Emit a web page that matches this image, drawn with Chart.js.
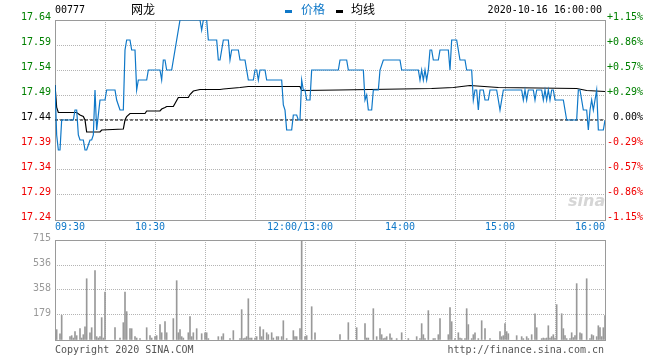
<!DOCTYPE html>
<html lang="zh-CN">
<head>
<meta charset="utf-8">
<title>00777 网龙</title>
<script src="https://cdn.jsdelivr.net/npm/chart.js@4.4.1/dist/chart.umd.min.js"></script>
<style>
html,body{margin:0;padding:0;background:#fff;}
#wrap{position:relative;width:660px;height:360px;overflow:hidden;background:#fff;}
#c1{position:absolute;left:0;top:0;}
#c2{position:absolute;left:0;top:228px;}
.tx{position:absolute;white-space:nowrap;font-family:"DejaVu Sans Mono","Liberation Mono",monospace;font-size:10px;line-height:12px;color:#000;}
.cn{font-family:"Noto Sans CJK SC",sans-serif;font-size:12px;line-height:12px;}
.mk{position:absolute;width:7px;height:3px;}
</style>
</head>
<body>
<div id="wrap">
<canvas id="c1" width="660" height="240"></canvas>
<canvas id="c2" width="660" height="132"></canvas>
<div class="tx" style="left:55px;top:4px">00777</div>
<div class="tx cn" style="left:131px;top:3px">网龙</div>
<div id="legend"></div>
<div class="tx" style="right:58px;top:4px">2020-10-16 16:00:00</div>
<div style="position:absolute;left:568px;top:191px;font:italic bold 16px 'DejaVu Sans',sans-serif;color:#d6d6d6;">sina</div>
<div class="tx" style="left:55px;top:344px;color:#555">Copyright 2020 SINA.COM</div>
<div class="tx" style="right:56px;top:344px;color:#555">http://finance.sina.com.cn</div>
</div>
<script>
// ---- data ----
const prevClose = 17.44;
const seriesNames = ['价格', '均线'];
const timeLabels = ['09:30', '10:30', '12:00/13:00', '14:00', '15:00', '16:00'];
const timeLabelMinutes = [0, 60, 150, 210, 270, 330];
const priceTicks = [17.24, 17.29, 17.34, 17.39, 17.44, 17.49, 17.54, 17.59, 17.64];
const volumeTicks = [0, 179, 358, 536, 715];

// minutes since 09:30 (lunch break removed) and price
const priceMinutes = [0,1,2,3,4,11,12,13,14,15,17,18,19,20,21,22,23,24,25,26,27,30,31,36,37,38,39,41,42,43,45,46,48,49,50,55,56,63,64,65,66,67,70,71,72,73,74,75,87,88,89,91,92,97,98,99,101,104,105,106,110,111,114,115,116,119,120,121,122,123,126,127,136,137,138,139,142,143,145,146,147,148,149,150,151,153,154,170,171,175,176,185,186,187,188,190,191,194,195,197,207,208,218,219,220,221,222,223,224,225,226,227,230,231,236,237,238,241,242,243,246,247,250,251,252,253,254,255,257,258,260,261,265,266,267,268,269,280,281,282,283,284,287,288,289,292,293,294,295,296,297,298,299,300,305,306,307,313,314,315,316,317,319,320,321,322,323,324,325,326,329,330];
const priceValues = [17.51,17.41,17.38,17.38,17.44,17.44,17.46,17.46,17.41,17.40,17.40,17.38,17.38,17.39,17.40,17.40,17.41,17.50,17.42,17.45,17.48,17.48,17.50,17.50,17.48,17.47,17.46,17.46,17.58,17.60,17.60,17.58,17.58,17.50,17.52,17.52,17.54,17.54,17.52,17.56,17.56,17.54,17.54,17.56,17.58,17.60,17.62,17.64,17.64,17.62,17.64,17.64,17.60,17.60,17.56,17.56,17.60,17.60,17.56,17.58,17.58,17.56,17.56,17.54,17.52,17.52,17.54,17.54,17.52,17.54,17.54,17.52,17.52,17.47,17.46,17.42,17.42,17.45,17.45,17.44,17.44,17.52,17.50,17.50,17.48,17.48,17.54,17.54,17.56,17.56,17.54,17.54,17.48,17.49,17.46,17.46,17.50,17.50,17.54,17.56,17.56,17.54,17.54,17.52,17.54,17.52,17.54,17.52,17.54,17.58,17.58,17.56,17.56,17.58,17.58,17.54,17.60,17.60,17.58,17.56,17.56,17.54,17.54,17.48,17.50,17.50,17.46,17.50,17.50,17.48,17.48,17.50,17.50,17.48,17.46,17.48,17.50,17.50,17.48,17.50,17.48,17.50,17.50,17.48,17.50,17.50,17.48,17.50,17.48,17.50,17.48,17.50,17.50,17.48,17.48,17.46,17.44,17.44,17.50,17.50,17.48,17.46,17.46,17.42,17.46,17.48,17.46,17.48,17.50,17.42,17.42,17.44];

const avgMinutes = [0,1,2,13,15,17,18,19,27,28,41,42,43,45,54,55,63,64,66,67,71,72,74,80,81,83,87,99,101,111,116,147,148,170,226,239,249,266,313,319,330];
const avgValues = [17.51,17.465,17.455,17.455,17.45,17.447,17.44,17.416,17.416,17.42,17.422,17.44,17.447,17.453,17.453,17.458,17.458,17.462,17.465,17.467,17.467,17.473,17.485,17.485,17.491,17.498,17.501,17.501,17.502,17.505,17.507,17.507,17.499,17.500,17.503,17.505,17.509,17.505,17.503,17.499,17.497];

const volumeMinutes = [1,3,4,9,10,11,12,13,15,16,17,18,19,21,22,24,25,26,27,28,29,30,36,39,41,42,43,45,46,48,49,51,55,57,58,60,61,63,64,66,67,71,73,74,75,76,77,80,81,82,83,85,88,90,91,92,98,100,101,105,107,111,112,113,114,115,116,117,118,120,121,123,124,125,127,128,130,131,133,134,136,137,139,143,144,145,147,148,150,151,154,156,171,176,181,186,187,188,191,193,195,196,197,198,199,201,202,205,208,212,217,219,220,221,222,224,227,228,230,231,236,237,238,240,242,243,244,246,247,248,250,251,252,254,256,258,261,267,268,269,270,271,272,277,280,281,283,284,286,288,289,292,293,294,295,296,297,298,299,300,301,304,305,306,307,309,310,311,312,313,315,316,319,321,322,323,325,326,327,328,329,330];
const volumeValues = [74,45,176,24,31,14,60,31,81,14,38,95,438,52,88,496,24,14,24,160,14,343,88,14,124,343,203,81,81,24,14,10,88,31,14,24,31,110,52,131,52,153,424,52,74,24,14,52,167,24,52,81,45,52,52,10,24,24,45,10,67,10,217,10,14,24,295,14,14,14,24,95,24,74,52,38,52,14,24,24,24,138,10,67,24,24,81,715,24,31,238,52,38,124,88,117,14,14,224,24,81,38,10,14,24,45,14,10,52,10,24,10,117,38,10,210,10,10,38,153,38,231,131,10,52,14,10,10,224,110,10,38,52,10,138,81,10,60,24,31,117,60,45,31,24,10,24,10,38,188,88,10,14,10,14,102,14,24,38,14,253,188,81,31,10,10,52,17,31,403,52,45,438,10,38,31,24,102,88,24,88,174];

// ---- styles ----
const BLUE = '#0f78c8';
const GREEN = '#008000';
const RED = '#f00000';
const GRID = '#b4b4b4';
const FRAME = '#9a9a9a';
const MONO = '"DejaVu Sans Mono","Liberation Mono",monospace';

// legend from series names
(function () {
  const lg = document.getElementById('legend');
  const colors = [BLUE, '#000'];
  const mkLeft = [285, 336], txLeft = [301, 351];
  seriesNames.forEach((n, i) => {
    const m = document.createElement('div');
    m.className = 'mk'; m.style.left = mkLeft[i] + 'px'; m.style.top = '10px'; m.style.background = colors[i];
    const t = document.createElement('div');
    t.className = 'tx cn'; t.style.left = txLeft[i] + 'px'; t.style.top = '3px'; t.style.color = colors[i];
    t.textContent = n;
    lg.appendChild(m); lg.appendChild(t);
  });
})();

const framePlugin = {
  id: 'frame',
  beforeDatasetsDraw(chart) {
    const a = chart.chartArea, ctx = chart.ctx;
    ctx.save();
    ctx.strokeStyle = FRAME; ctx.lineWidth = 1;
    ctx.strokeRect(a.left + 0.5, a.top + 0.5, a.right - a.left - 1 + 1, a.bottom - a.top);
    ctx.restore();
  }
};

function tickColor(ctx) {
  const v = ctx.tick.value;
  if (v > prevClose + 1e-9) return GREEN;
  if (v < prevClose - 1e-9) return RED;
  return '#000';
}
function pct(v) {
  const p = (v - prevClose) / prevClose * 100;
  if (Math.abs(p) < 1e-9) return '0.00%';
  return (p > 0 ? '+' : '') + p.toFixed(2) + '%';
}

new Chart(document.getElementById('c1'), {
  type: 'line',
  data: {
    datasets: [
      { label: seriesNames[0], data: priceMinutes.map((m, i) => ({ x: m, y: priceValues[i] })), borderColor: BLUE, borderWidth: 1.2, pointRadius: 0, tension: 0, order: 1 },
      { label: seriesNames[1], data: avgMinutes.map((m, i) => ({ x: m, y: avgValues[i] })), borderColor: '#000', borderWidth: 1.2, pointRadius: 0, tension: 0, order: 2 },
      { label: '昨收', data: [{ x: 0, y: prevClose }, { x: 330, y: prevClose }], borderColor: '#000', borderWidth: 1, borderDash: [3, 2], pointRadius: 0, order: 3 }
    ]
  },
  options: {
    responsive: false, animation: false, devicePixelRatio: 1,
    layout: { padding: { top: 20, left: 0, right: 17, bottom: 0 } },
    plugins: { legend: { display: false }, tooltip: { enabled: false } },
    scales: {
      x: {
        type: 'linear', min: 0, max: 330, position: 'bottom',
        ticks: { display: false, stepSize: 30 },
        grid: { color: GRID, drawTicks: false, lineWidth: 1 },
        border: { display: false, dash: [1, 1] },
        afterFit(s) { s.height = 0; }
      },
      xt: {
        type: 'linear', min: 0, max: 330, position: 'bottom',
        grid: { display: false, drawTicks: false }, border: { display: false },
        afterBuildTicks(s) {
          s.ticks = timeLabelMinutes.map((v, i) => ({ value: (i === 0 || i === timeLabelMinutes.length - 1) ? v : v - 3 }));
        },
        ticks: { autoSkip: false, maxRotation: 0, align: 'inner', padding: 1, color: BLUE, font: { family: MONO, size: 10 },
          callback: (v, i) => timeLabels[i] },
        afterFit(s) { s.height = 20; }
      },
      y: {
        position: 'left', min: 17.24, max: 17.64,
        afterBuildTicks(s) { s.ticks = priceTicks.map(v => ({ value: v })); },
        ticks: { padding: 4, labelOffset: -3, color: tickColor, font: { family: MONO, size: 10 }, callback: v => v.toFixed(2) },
        grid: { color: GRID, drawTicks: false, lineWidth: 1 },
        border: { display: false, dash: [1, 1] },
        afterFit(s) { s.width = 55; }
      },
      y2: {
        position: 'right', min: 17.24, max: 17.64,
        afterBuildTicks(s) { s.ticks = priceTicks.map(v => ({ value: v })); },
        ticks: { padding: 2, labelOffset: -3, crossAlign: 'far', color: tickColor, font: { family: MONO, size: 10 }, callback: v => pct(v) },
        grid: { display: false, drawTicks: false },
        border: { display: false },
        afterFit(s) { s.width = 38; }
      }
    }
  },
  plugins: [framePlugin]
});

new Chart(document.getElementById('c2'), {
  type: 'bar',
  data: {
    datasets: [
      { label: '成交量', data: volumeMinutes.map((m, i) => ({ x: m, y: volumeValues[i] })), backgroundColor: '#999', borderWidth: 0, barThickness: 1 }
    ]
  },
  options: {
    responsive: false, animation: false, devicePixelRatio: 1,
    layout: { padding: { top: 12, left: 0, right: 55, bottom: 0 } },
    plugins: { legend: { display: false }, tooltip: { enabled: false } },
    scales: {
      x: {
        type: 'linear', min: 0, max: 330, offset: false,
        ticks: { display: false, stepSize: 30 },
        grid: { color: GRID, drawTicks: false, lineWidth: 1, offset: false },
        border: { display: false, dash: [1, 1] },
        afterFit(s) { s.height = 20; }
      },
      y: {
        position: 'left', min: 0, max: 715,
        afterBuildTicks(s) { s.ticks = volumeTicks.map(v => ({ value: v })); },
        ticks: { padding: 4, labelOffset: -2, color: '#999', font: { family: MONO, size: 10 }, callback: v => v === 0 ? '' : String(v) },
        grid: { color: GRID, drawTicks: false, lineWidth: 1 },
        border: { display: false, dash: [1, 1] },
        afterFit(s) { s.width = 55; }
      }
    }
  },
  plugins: [framePlugin]
});
</script>
</body>
</html>
